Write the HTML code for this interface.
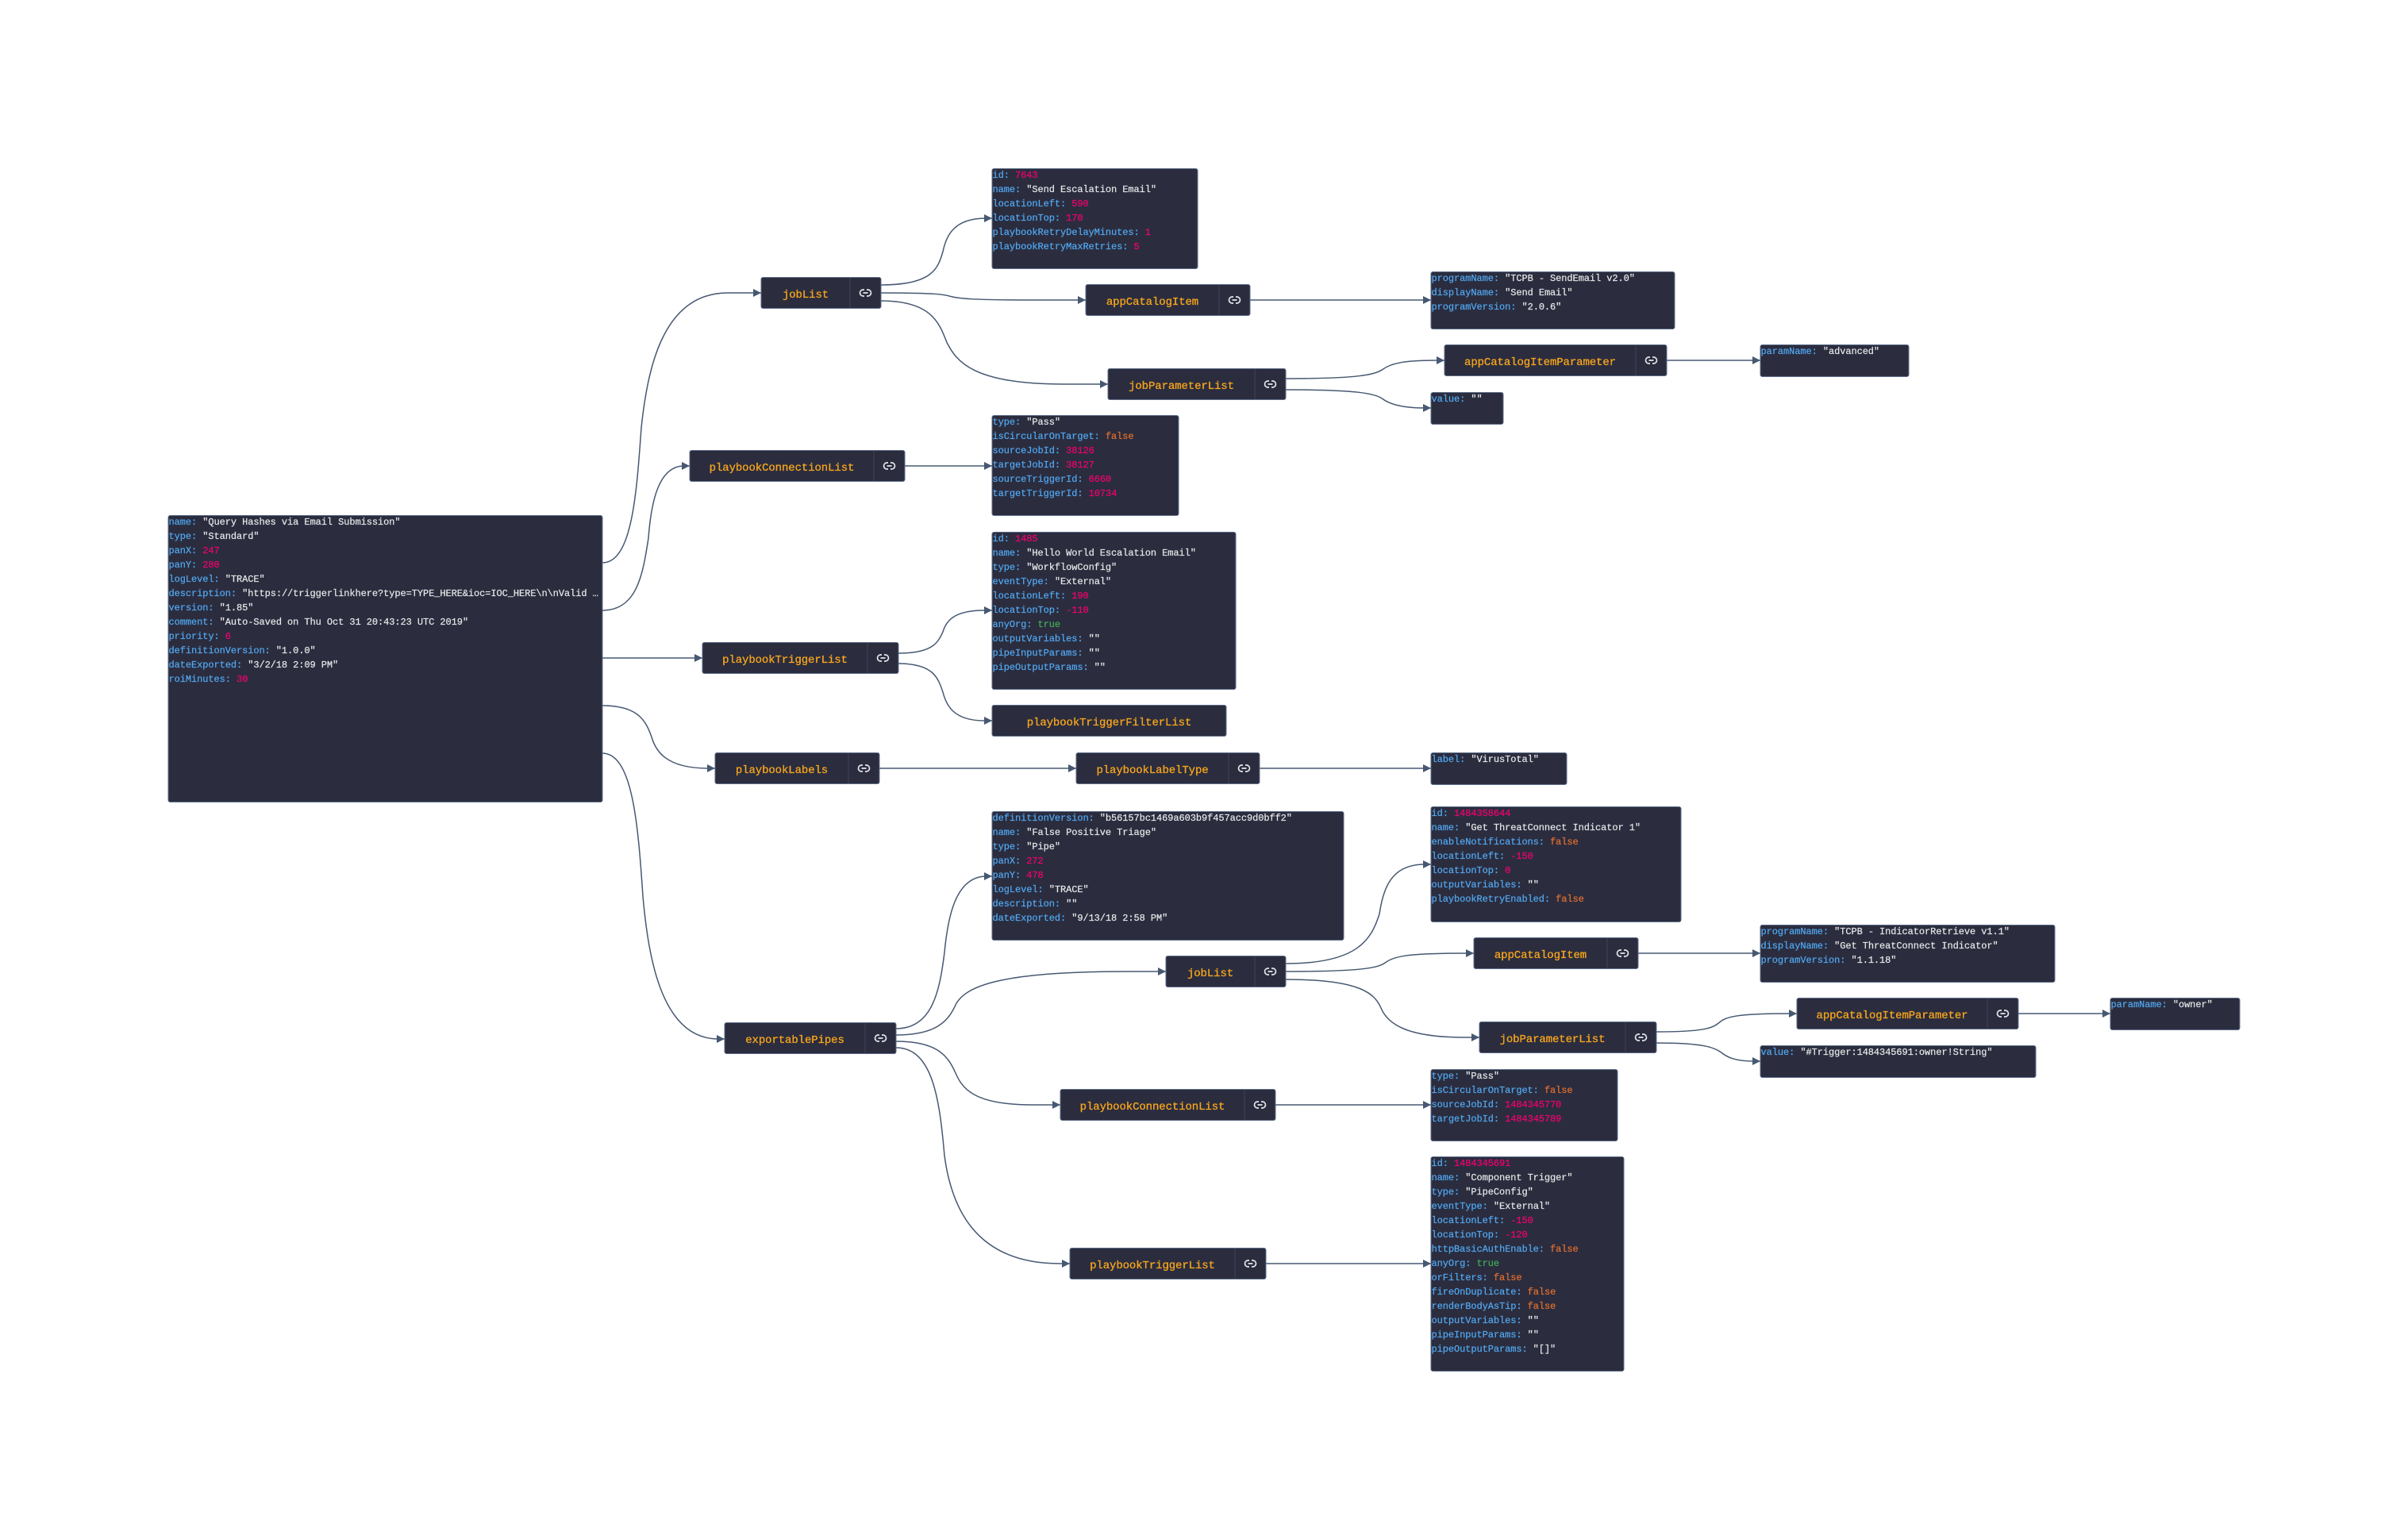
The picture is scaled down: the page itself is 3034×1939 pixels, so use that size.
<!DOCTYPE html>
<html lang="en">
<head>
<meta charset="utf-8">
<title>Playbook graph</title>
<style>
html,body{margin:0;padding:0;background:#fff;}
#c{position:relative;width:3034px;height:1939px;overflow:hidden;background:#fff;font-family:"Liberation Mono",monospace;}
svg.e{position:absolute;left:0;top:0;}
.n{position:absolute;box-sizing:border-box;background:#2b2d3f;border:1px solid #5d6d88;border-radius:3px;overflow:hidden;transform:translateX(-.5px);}
.f{display:flex;height:40px;font-size:14px;color:#f7a51c;}
.f .l{box-sizing:border-box;text-align:center;line-height:44px;white-space:pre;letter-spacing:-.1px;-webkit-text-stroke:.3px #f7a51c;}
.f .i{flex:1;border-left:1px solid #3f4357;display:flex;align-items:center;justify-content:center;}
.d{font-size:12px;line-height:18px;color:#e8e8e8;white-space:pre;letter-spacing:-.08px;-webkit-text-stroke:.2px;}
.d>div{height:18px;margin-top:0;}
.d>div:first-child{margin-top:-1px;}
.k{color:#52a9f2;}
.v{color:#f5006f;}
.b{color:#e56f2c;}
.t{color:#42ad57;}
</style>
</head>
<body>
<div id="c">
<svg class="e" width="3034" height="1939" viewBox="0 0 3034 1939" xmlns="http://www.w3.org/2000/svg">
<defs>
<marker id="a" markerUnits="userSpaceOnUse" markerWidth="10" markerHeight="10" refX="10" refY="5" orient="auto"><path d="M0 0L10 5L0 10Z" fill="#475872"/></marker>
</defs>
<g fill="none" stroke="#475872" stroke-width="1.5">
<path marker-end="url(#a)" d="M759 709C796 709 802 624 808 539C816 464 835 369 917 369L959 369"/>
<path marker-end="url(#a)" d="M759 769C803 769 810 723 817 678C820 638 828 587 862 587L869 587"/>
<path marker-end="url(#a)" d="M759 829L885 829"/>
<path marker-end="url(#a)" d="M759 889C805 889 814 909 821 928.5C826 946 839 968 892 968L901 968"/>
<path marker-end="url(#a)" d="M759 949C797 949 804 1039 810 1129C817 1208 834 1309 905 1309L913 1309"/>
<path marker-end="url(#a)" d="M1110 359C1175 359 1182 338 1188 317C1192 298 1201 275 1242 275L1250 275"/>
<path marker-end="url(#a)" d="M1110 369C1180 369 1190 371 1198 373.5C1207 376 1224 378 1300 378L1368 378"/>
<path marker-end="url(#a)" d="M1110 379C1172 379 1183 405 1193 431.5C1205 455 1225 484 1340 484L1396 484"/>
<path marker-end="url(#a)" d="M1132 823C1176 823 1182 809 1188 796C1192 783 1201 769 1240 769L1250 769"/>
<path marker-end="url(#a)" d="M1132 836C1176 836 1182 854 1188 872C1192 888 1201 908 1240 908L1250 908"/>
<path marker-end="url(#a)" d="M1129 1296C1175 1296 1184 1248 1190 1200C1194 1158 1203 1104 1243 1104L1250 1104"/>
<path marker-end="url(#a)" d="M1129 1304C1183 1304 1196 1284 1205 1264C1218 1243 1258 1224 1420 1224L1469 1224"/>
<path marker-end="url(#a)" d="M1129 1312C1183 1312 1195 1332 1204 1352C1212 1370 1225 1392 1300 1392L1336 1392"/>
<path marker-end="url(#a)" d="M1129 1320C1176 1320 1184 1388 1190 1456C1198 1516 1225 1592 1335 1592L1348 1592"/>
<path marker-end="url(#a)" d="M1620 1214C1712 1214 1728 1183 1738 1151.5C1743 1120 1752 1089 1795 1089L1803 1089"/>
<path marker-end="url(#a)" d="M1620 1224C1720 1224 1737 1219 1746 1212.5C1756 1205 1773 1201 1845 1201L1857 1201"/>
<path marker-end="url(#a)" d="M1620 1234C1715 1234 1732 1252 1740 1270C1748 1289 1770 1307 1845 1307L1864 1307"/>
<path marker-end="url(#a)" d="M1620 477C1712 477 1733 472 1742 465.5C1752 458 1768 454 1810 454L1820 454"/>
<path marker-end="url(#a)" d="M1620 491C1712 491 1733 496 1742 502.5C1752 510 1768 514 1795 514L1803 514"/>
<path marker-end="url(#a)" d="M2087 1300C2148 1300 2158 1295 2166 1288.5C2174 1281 2188 1277 2255 1277L2264 1277"/>
<path marker-end="url(#a)" d="M2087 1314C2148 1314 2160 1320 2168 1325.5C2176 1332 2186 1337 2210 1337L2218 1337"/>
<path marker-end="url(#a)" d="M1140 587L1250 587"/>
<path marker-end="url(#a)" d="M1575 378L1803 378"/>
<path marker-end="url(#a)" d="M2100 454L2218 454"/>
<path marker-end="url(#a)" d="M1108 968L1356 968"/>
<path marker-end="url(#a)" d="M1587 968L1803 968"/>
<path marker-end="url(#a)" d="M2064 1201L2218 1201"/>
<path marker-end="url(#a)" d="M2543 1277L2659 1277"/>
<path marker-end="url(#a)" d="M1607 1392L1803 1392"/>
<path marker-end="url(#a)" d="M1595 1592L1803 1592"/>
</g>
<symbol id="lk" viewBox="0 0 16 10"><path d="M6.500 1H5a4 4 0 0 0 0 8h1.500M9.500 1H11a4 4 0 0 1 0 8H9.500M5 5h6" fill="none" stroke="#e4e6ea" stroke-width="1.700"/></symbol>
</svg>

<!-- root -->
<div class="n d" style="left:212px;top:649px;width:548px;height:362px"><div><span class="k">name:</span> "Query Hashes via Email Submission"</div><div><span class="k">type:</span> "Standard"</div><div><span class="k">panX:</span> <span class="v">247</span></div><div><span class="k">panY:</span> <span class="v">280</span></div><div><span class="k">logLevel:</span> "TRACE"</div><div><span class="k">description:</span> "https://triggerlinkhere?type=TYPE_HERE&amp;ioc=IOC_HERE\n\nValid …</div><div><span class="k">version:</span> "1.85"</div><div><span class="k">comment:</span> "Auto-Saved on Thu Oct 31 20:43:23 UTC 2019"</div><div><span class="k">priority:</span> <span class="v">6</span></div><div><span class="k">definitionVersion:</span> "1.0.0"</div><div><span class="k">dateExported:</span> "3/2/18 2:09 PM"</div><div><span class="k">roiMinutes:</span> <span class="v">30</span></div></div>

<!-- labelled nodes -->
<div class="n f" style="left:959px;top:349px;width:152px"><span class="l" style="width:111px">jobList</span><span class="i"><svg width="16" height="10"><use href="#lk"/></svg></span></div>
<div class="n f" style="left:1368px;top:358px;width:208px"><span class="l" style="width:167px">appCatalogItem</span><span class="i"><svg width="16" height="10"><use href="#lk"/></svg></span></div>
<div class="n f" style="left:1396px;top:464px;width:225px"><span class="l" style="width:184px">jobParameterList</span><span class="i"><svg width="16" height="10"><use href="#lk"/></svg></span></div>
<div class="n f" style="left:1820px;top:434px;width:281px"><span class="l" style="width:240px">appCatalogItemParameter</span><span class="i"><svg width="16" height="10"><use href="#lk"/></svg></span></div>
<div class="n f" style="left:869px;top:567px;width:272px"><span class="l" style="width:231px">playbookConnectionList</span><span class="i"><svg width="16" height="10"><use href="#lk"/></svg></span></div>
<div class="n f" style="left:885px;top:809px;width:248px"><span class="l" style="width:207px">playbookTriggerList</span><span class="i"><svg width="16" height="10"><use href="#lk"/></svg></span></div>
<div class="n f" style="left:1250px;top:888px;width:296px"><span class="l" style="width:294px">playbookTriggerFilterList</span></div>
<div class="n f" style="left:901px;top:948px;width:208px"><span class="l" style="width:167px">playbookLabels</span><span class="i"><svg width="16" height="10"><use href="#lk"/></svg></span></div>
<div class="n f" style="left:1356px;top:948px;width:232px"><span class="l" style="width:191px">playbookLabelType</span><span class="i"><svg width="16" height="10"><use href="#lk"/></svg></span></div>
<div class="n f" style="left:913px;top:1288px;width:217px"><span class="l" style="width:176px">exportablePipes</span><span class="i"><svg width="16" height="10"><use href="#lk"/></svg></span></div>
<div class="n f" style="left:1469px;top:1204px;width:152px"><span class="l" style="width:111px">jobList</span><span class="i"><svg width="16" height="10"><use href="#lk"/></svg></span></div>
<div class="n f" style="left:1857px;top:1181px;width:208px"><span class="l" style="width:167px">appCatalogItem</span><span class="i"><svg width="16" height="10"><use href="#lk"/></svg></span></div>
<div class="n f" style="left:1864px;top:1287px;width:224px"><span class="l" style="width:183px">jobParameterList</span><span class="i"><svg width="16" height="10"><use href="#lk"/></svg></span></div>
<div class="n f" style="left:2264px;top:1257px;width:280px"><span class="l" style="width:239px">appCatalogItemParameter</span><span class="i"><svg width="16" height="10"><use href="#lk"/></svg></span></div>
<div class="n f" style="left:1336px;top:1372px;width:272px"><span class="l" style="width:231px">playbookConnectionList</span><span class="i"><svg width="16" height="10"><use href="#lk"/></svg></span></div>
<div class="n f" style="left:1348px;top:1572px;width:248px"><span class="l" style="width:207px">playbookTriggerList</span><span class="i"><svg width="16" height="10"><use href="#lk"/></svg></span></div>

<!-- data nodes -->
<div class="n d" style="left:1250px;top:212px;width:260px;height:127px"><div><span class="k">id:</span> <span class="v">7643</span></div><div><span class="k">name:</span> "Send Escalation Email"</div><div><span class="k">locationLeft:</span> <span class="v">590</span></div><div><span class="k">locationTop:</span> <span class="v">170</span></div><div><span class="k">playbookRetryDelayMinutes:</span> <span class="v">1</span></div><div><span class="k">playbookRetryMaxRetries:</span> <span class="v">5</span></div></div>

<div class="n d" style="left:1803px;top:342px;width:308px;height:73px"><div><span class="k">programName:</span> "TCPB - SendEmail v2.0"</div><div><span class="k">displayName:</span> "Send Email"</div><div><span class="k">programVersion:</span> "2.0.6"</div></div>

<div class="n d" style="left:2218px;top:434px;width:188px;height:41px"><div><span class="k">paramName:</span> "advanced"</div></div>

<div class="n d" style="left:1803px;top:494px;width:92px;height:41px"><div><span class="k">value:</span> ""</div></div>

<div class="n d" style="left:1250px;top:523px;width:236px;height:127px"><div><span class="k">type:</span> "Pass"</div><div><span class="k">isCircularOnTarget:</span> <span class="b">false</span></div><div><span class="k">sourceJobId:</span> <span class="v">38126</span></div><div><span class="k">targetJobId:</span> <span class="v">38127</span></div><div><span class="k">sourceTriggerId:</span> <span class="v">6660</span></div><div><span class="k">targetTriggerId:</span> <span class="v">10734</span></div></div>

<div class="n d" style="left:1250px;top:670px;width:308px;height:199px"><div><span class="k">id:</span> <span class="v">1485</span></div><div><span class="k">name:</span> "Hello World Escalation Email"</div><div><span class="k">type:</span> "WorkflowConfig"</div><div><span class="k">eventType:</span> "External"</div><div><span class="k">locationLeft:</span> <span class="v">190</span></div><div><span class="k">locationTop:</span> <span class="v">-110</span></div><div><span class="k">anyOrg:</span> <span class="t">true</span></div><div><span class="k">outputVariables:</span> ""</div><div><span class="k">pipeInputParams:</span> ""</div><div><span class="k">pipeOutputParams:</span> ""</div></div>

<div class="n d" style="left:1803px;top:948px;width:172px;height:41px"><div><span class="k">label:</span> "VirusTotal"</div></div>

<div class="n d" style="left:1250px;top:1022px;width:444px;height:163px"><div><span class="k">definitionVersion:</span> "b56157bc1469a603b9f457acc9d0bff2"</div><div><span class="k">name:</span> "False Positive Triage"</div><div><span class="k">type:</span> "Pipe"</div><div><span class="k">panX:</span> <span class="v">272</span></div><div><span class="k">panY:</span> <span class="v">478</span></div><div><span class="k">logLevel:</span> "TRACE"</div><div><span class="k">description:</span> ""</div><div><span class="k">dateExported:</span> "9/13/18 2:58 PM"</div></div>

<div class="n d" style="left:1803px;top:1016px;width:316px;height:146px"><div><span class="k">id:</span> <span class="v">1484358644</span></div><div><span class="k">name:</span> "Get ThreatConnect Indicator 1"</div><div><span class="k">enableNotifications:</span> <span class="b">false</span></div><div><span class="k">locationLeft:</span> <span class="v">-150</span></div><div><span class="k">locationTop:</span> <span class="v">0</span></div><div><span class="k">outputVariables:</span> ""</div><div><span class="k">playbookRetryEnabled:</span> <span class="b">false</span></div></div>

<div class="n d" style="left:2218px;top:1165px;width:372px;height:73px"><div><span class="k">programName:</span> "TCPB - IndicatorRetrieve v1.1"</div><div><span class="k">displayName:</span> "Get ThreatConnect Indicator"</div><div><span class="k">programVersion:</span> "1.1.18"</div></div>

<div class="n d" style="left:2659px;top:1257px;width:164px;height:41px"><div><span class="k">paramName:</span> "owner"</div></div>

<div class="n d" style="left:2218px;top:1317px;width:348px;height:41px"><div><span class="k">value:</span> "#Trigger:1484345691:owner!String"</div></div>

<div class="n d" style="left:1803px;top:1347px;width:236px;height:91px"><div><span class="k">type:</span> "Pass"</div><div><span class="k">isCircularOnTarget:</span> <span class="b">false</span></div><div><span class="k">sourceJobId:</span> <span class="v">1484345770</span></div><div><span class="k">targetJobId:</span> <span class="v">1484345789</span></div></div>

<div class="n d" style="left:1803px;top:1457px;width:244px;height:271px"><div><span class="k">id:</span> <span class="v">1484345691</span></div><div><span class="k">name:</span> "Component Trigger"</div><div><span class="k">type:</span> "PipeConfig"</div><div><span class="k">eventType:</span> "External"</div><div><span class="k">locationLeft:</span> <span class="v">-150</span></div><div><span class="k">locationTop:</span> <span class="v">-120</span></div><div><span class="k">httpBasicAuthEnable:</span> <span class="b">false</span></div><div><span class="k">anyOrg:</span> <span class="t">true</span></div><div><span class="k">orFilters:</span> <span class="b">false</span></div><div><span class="k">fireOnDuplicate:</span> <span class="b">false</span></div><div><span class="k">renderBodyAsTip:</span> <span class="b">false</span></div><div><span class="k">outputVariables:</span> ""</div><div><span class="k">pipeInputParams:</span> ""</div><div><span class="k">pipeOutputParams:</span> "[]"</div></div>
</div>
</body>
</html>
